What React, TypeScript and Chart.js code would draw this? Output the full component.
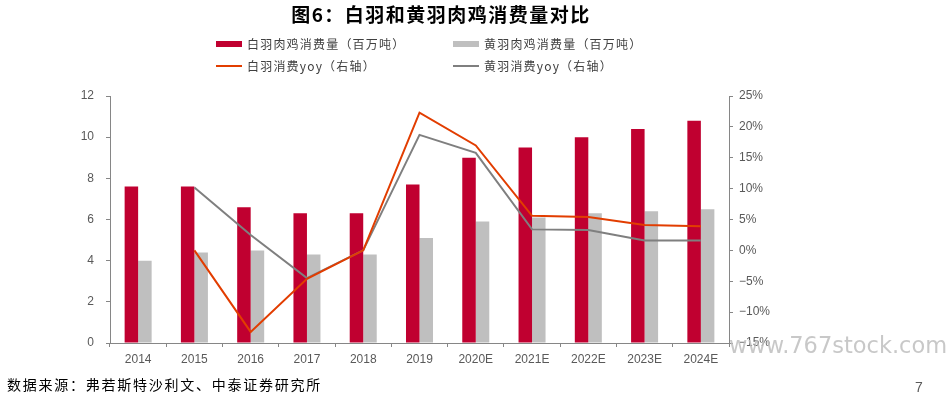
import React, { useEffect, useRef } from "react";
import { Chart, registerables } from "chart.js";

Chart.register(...registerables);

const categories = ["2014", "2015", "2016", "2017", "2018", "2019", "2020E", "2021E", "2022E", "2023E", "2024E"];
const whiteConsumption = [7.6, 7.6, 6.6, 6.3, 6.3, 7.7, 9.0, 9.5, 10.0, 10.4, 10.8];
const yellowConsumption = [4.0, 4.4, 4.5, 4.3, 4.3, 5.1, 5.9, 6.1, 6.3, 6.4, 6.5];
const whiteYoy = [null, 0.0, -13.2, -4.6, 0.0, 22.3, 17.0, 5.6, 5.4, 4.1, 3.9];
const yellowYoy = [null, 10.2, 2.5, -4.5, 0.0, 18.7, 15.8, 3.4, 3.3, 1.6, 1.6];

const leftTicks = { min: 0, max: 12, step: 2 };
const rightTicks = { min: -15, max: 25, step: 5 };

const RED_BAR = "#C00030";
const GRAY_BAR = "#BFBFBF";
const RED_LINE = "#E23D00";
const GRAY_LINE = "#7F7F7F";
const AXIS = "#868686";
const TICK_TEXT = "#595959";

const legendItems = [
  { label: "白羽肉鸡消费量（百万吨）", color: RED_BAR, kind: "bar", left: 216, top: 44 },
  { label: "黄羽肉鸡消费量（百万吨）", color: GRAY_BAR, kind: "bar", left: 453, top: 44 },
  { label: "白羽消费yoy（右轴）", color: RED_LINE, kind: "line", left: 216, top: 66 },
  { label: "黄羽消费yoy（右轴）", color: GRAY_LINE, kind: "line", left: 453, top: 66 },
];

export default function App() {
  const ref = useRef<HTMLCanvasElement | null>(null);

  useEffect(() => {
    if (!ref.current) return;
    const chart = new Chart(ref.current, {
      type: "bar",
      data: {
        labels: categories,
        datasets: [
          {
            type: "line",
            label: "白羽消费yoy（右轴）",
            data: whiteYoy,
            yAxisID: "y1",
            borderColor: RED_LINE,
            backgroundColor: RED_LINE,
            borderWidth: 2,
            pointRadius: 0,
            tension: 0,
            order: 0,
          },
          {
            type: "line",
            label: "黄羽消费yoy（右轴）",
            data: yellowYoy,
            yAxisID: "y1",
            borderColor: GRAY_LINE,
            backgroundColor: GRAY_LINE,
            borderWidth: 2,
            pointRadius: 0,
            tension: 0,
            order: 1,
          },
          {
            type: "bar",
            label: "白羽肉鸡消费量（百万吨）",
            data: whiteConsumption,
            yAxisID: "y",
            backgroundColor: RED_BAR,
            categoryPercentage: 0.48,
            barPercentage: 1.0,
            order: 2,
          },
          {
            type: "bar",
            label: "黄羽肉鸡消费量（百万吨）",
            data: yellowConsumption,
            yAxisID: "y",
            backgroundColor: GRAY_BAR,
            categoryPercentage: 0.48,
            barPercentage: 1.0,
            order: 3,
          },
        ] as any,
      },
      options: {
        animation: false,
        responsive: false,
        maintainAspectRatio: false,
        layout: { padding: { top: 96, left: 0, right: 0, bottom: 0 } },
        plugins: { legend: { display: false }, tooltip: { enabled: false }, title: { display: false } },
        scales: {
          x: {
            offset: true,
            grid: { display: true, drawOnChartArea: false, drawTicks: true, tickLength: 4, color: AXIS, offset: true },
            border: { color: AXIS, width: 1 },
            ticks: { color: TICK_TEXT, font: { size: 12, family: "'Liberation Sans', Arial, sans-serif" }, padding: 5, maxRotation: 0, autoSkip: false },
            afterFit: (s: any) => { s.height = 56; },
          },
          y: {
            position: "left",
            min: leftTicks.min,
            max: leftTicks.max,
            grid: { display: true, drawOnChartArea: false, drawTicks: true, tickLength: 4, color: AXIS },
            border: { color: AXIS, width: 1 },
            ticks: { stepSize: leftTicks.step, color: TICK_TEXT, font: { size: 12, family: "'Liberation Sans', Arial, sans-serif" }, padding: 12 },
            afterFit: (s: any) => { s.width = 110; },
          },
          y1: {
            position: "right",
            min: rightTicks.min,
            max: rightTicks.max,
            grid: { display: true, drawOnChartArea: false, drawTicks: true, tickLength: 4, color: AXIS },
            border: { color: AXIS, width: 1 },
            ticks: {
              stepSize: rightTicks.step,
              color: TICK_TEXT,
              font: { size: 12, family: "'Liberation Sans', Arial, sans-serif" },
              padding: 6,
              callback: (v: any) => (Number(v) < 0 ? "\u2212" + Math.abs(Number(v)) : String(v)) + "%",
            },
            afterFit: (s: any) => { s.width = 221; },
          },
        },
      } as any,
    });
    return () => chart.destroy();
  }, []);

  const cjk = "'Noto Sans CJK SC', 'Noto Sans', sans-serif";

  return (
    <div style={{ position: "absolute", left: 0, top: 0, width: 950, height: 399, background: "#fff", overflow: "hidden" }}>
      <canvas ref={ref} width={950} height={399} style={{ position: "absolute", left: 0, top: 0, width: 950, height: 399, display: "block" }} />
      <div
        style={{
          position: "absolute",
          left: 241,
          width: 400,
          top: 2,
          textAlign: "center",
          fontFamily: cjk,
          fontWeight: 700,
          fontSize: 19,
          letterSpacing: 1.5,
          lineHeight: "24px",
          color: "#000",
        }}
      >
        图6：白羽和黄羽肉鸡消费量对比
      </div>
      {legendItems.map((it) => (
        <div key={it.label} style={{ position: "absolute", left: it.left, top: it.top - 9, height: 18, display: "flex", alignItems: "center" }}>
          <div
            style={{
              width: 26,
              height: it.kind === "bar" ? 6 : 2,
              background: it.color,
              marginRight: 5,
            }}
          />
          <span style={{ fontFamily: cjk, fontSize: 12, letterSpacing: 1.2, color: "#404040", lineHeight: "18px", whiteSpace: "nowrap" }}>
            {it.label}
          </span>
        </div>
      ))}
      <div
        style={{
          position: "absolute",
          left: 7,
          top: 375,
          fontFamily: cjk,
          fontSize: 14,
          letterSpacing: 1.75,
          lineHeight: "18px",
          color: "#000",
          whiteSpace: "nowrap",
        }}
      >
        数据来源：弗若斯特沙利文、中泰证券研究所
      </div>
      <div
        style={{
          position: "absolute",
          left: 729,
          top: 331,
          fontFamily: "'DejaVu Sans', sans-serif",
          fontSize: 22.5,
          lineHeight: "28px",
          color: "rgba(190,190,190,0.85)",
          whiteSpace: "nowrap",
        }}
      >
        www.767stock.com
      </div>
      <div
        style={{
          position: "absolute",
          left: 915,
          top: 378,
          fontFamily: "'Liberation Sans', Arial, sans-serif",
          fontSize: 14,
          lineHeight: "18px",
          color: "#595959",
        }}
      >
        7
      </div>
    </div>
  );
}
